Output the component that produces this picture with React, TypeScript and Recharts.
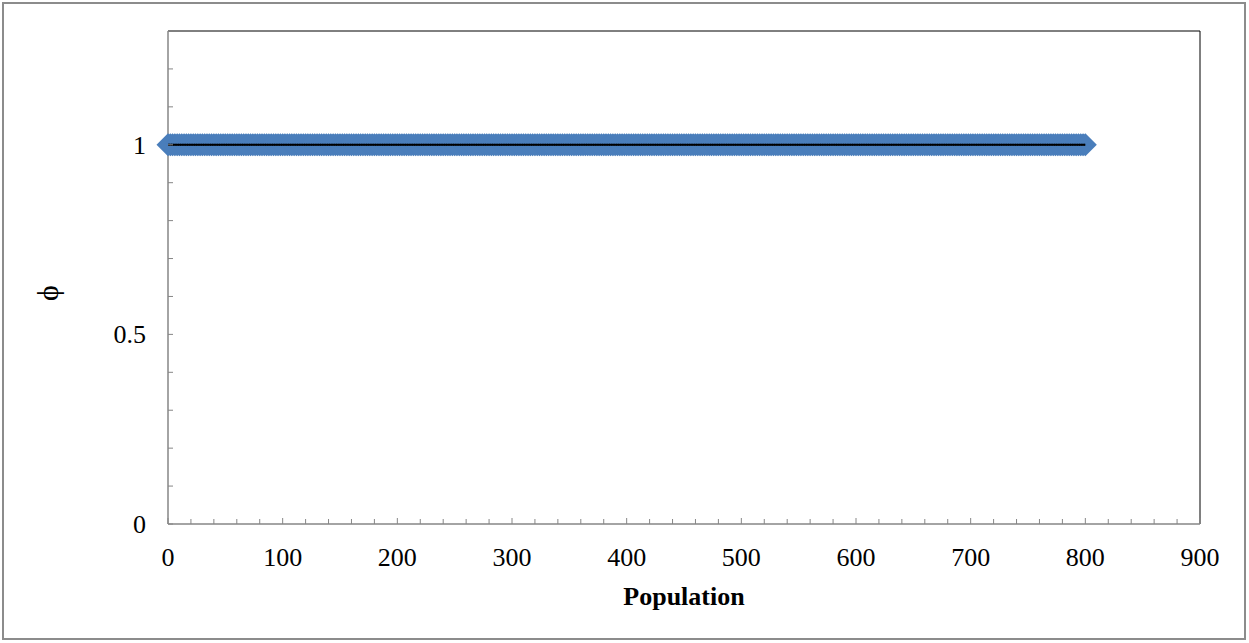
import { ComposedChart, Line, XAxis, YAxis, ReferenceLine } from 'recharts';

// population sizes sampled along the run
const populations = [
  0, 2, 4, 6, 8, 10, 12, 14, 16, 18, 20, 22, 24, 26, 28, 30, 32, 34, 36, 38,
  40, 42, 44, 46, 48, 50, 52, 54, 56, 58, 60, 62, 64, 66, 68, 70, 72, 74, 76, 78,
  80, 82, 84, 86, 88, 90, 92, 94, 96, 98, 100, 102, 104, 106, 108, 110, 112, 114, 116, 118,
  120, 122, 124, 126, 128, 130, 132, 134, 136, 138, 140, 142, 144, 146, 148, 150, 152, 154, 156, 158,
  160, 162, 164, 166, 168, 170, 172, 174, 176, 178, 180, 182, 184, 186, 188, 190, 192, 194, 196, 198,
  200, 202, 204, 206, 208, 210, 212, 214, 216, 218, 220, 222, 224, 226, 228, 230, 232, 234, 236, 238,
  240, 242, 244, 246, 248, 250, 252, 254, 256, 258, 260, 262, 264, 266, 268, 270, 272, 274, 276, 278,
  280, 282, 284, 286, 288, 290, 292, 294, 296, 298, 300, 302, 304, 306, 308, 310, 312, 314, 316, 318,
  320, 322, 324, 326, 328, 330, 332, 334, 336, 338, 340, 342, 344, 346, 348, 350, 352, 354, 356, 358,
  360, 362, 364, 366, 368, 370, 372, 374, 376, 378, 380, 382, 384, 386, 388, 390, 392, 394, 396, 398,
  400, 402, 404, 406, 408, 410, 412, 414, 416, 418, 420, 422, 424, 426, 428, 430, 432, 434, 436, 438,
  440, 442, 444, 446, 448, 450, 452, 454, 456, 458, 460, 462, 464, 466, 468, 470, 472, 474, 476, 478,
  480, 482, 484, 486, 488, 490, 492, 494, 496, 498, 500, 502, 504, 506, 508, 510, 512, 514, 516, 518,
  520, 522, 524, 526, 528, 530, 532, 534, 536, 538, 540, 542, 544, 546, 548, 550, 552, 554, 556, 558,
  560, 562, 564, 566, 568, 570, 572, 574, 576, 578, 580, 582, 584, 586, 588, 590, 592, 594, 596, 598,
  600, 602, 604, 606, 608, 610, 612, 614, 616, 618, 620, 622, 624, 626, 628, 630, 632, 634, 636, 638,
  640, 642, 644, 646, 648, 650, 652, 654, 656, 658, 660, 662, 664, 666, 668, 670, 672, 674, 676, 678,
  680, 682, 684, 686, 688, 690, 692, 694, 696, 698, 700, 702, 704, 706, 708, 710, 712, 714, 716, 718,
  720, 722, 724, 726, 728, 730, 732, 734, 736, 738, 740, 742, 744, 746, 748, 750, 752, 754, 756, 758,
  760, 762, 764, 766, 768, 770, 772, 774, 776, 778, 780, 782, 784, 786, 788, 790, 792, 794, 796, 798,
  800,
];

// phi for each population above
const phi = [
  1, 1, 1, 1, 1, 1, 1, 1, 1, 1, 1, 1, 1, 1, 1, 1, 1, 1, 1, 1,
  1, 1, 1, 1, 1, 1, 1, 1, 1, 1, 1, 1, 1, 1, 1, 1, 1, 1, 1, 1,
  1, 1, 1, 1, 1, 1, 1, 1, 1, 1, 1, 1, 1, 1, 1, 1, 1, 1, 1, 1,
  1, 1, 1, 1, 1, 1, 1, 1, 1, 1, 1, 1, 1, 1, 1, 1, 1, 1, 1, 1,
  1, 1, 1, 1, 1, 1, 1, 1, 1, 1, 1, 1, 1, 1, 1, 1, 1, 1, 1, 1,
  1, 1, 1, 1, 1, 1, 1, 1, 1, 1, 1, 1, 1, 1, 1, 1, 1, 1, 1, 1,
  1, 1, 1, 1, 1, 1, 1, 1, 1, 1, 1, 1, 1, 1, 1, 1, 1, 1, 1, 1,
  1, 1, 1, 1, 1, 1, 1, 1, 1, 1, 1, 1, 1, 1, 1, 1, 1, 1, 1, 1,
  1, 1, 1, 1, 1, 1, 1, 1, 1, 1, 1, 1, 1, 1, 1, 1, 1, 1, 1, 1,
  1, 1, 1, 1, 1, 1, 1, 1, 1, 1, 1, 1, 1, 1, 1, 1, 1, 1, 1, 1,
  1, 1, 1, 1, 1, 1, 1, 1, 1, 1, 1, 1, 1, 1, 1, 1, 1, 1, 1, 1,
  1, 1, 1, 1, 1, 1, 1, 1, 1, 1, 1, 1, 1, 1, 1, 1, 1, 1, 1, 1,
  1, 1, 1, 1, 1, 1, 1, 1, 1, 1, 1, 1, 1, 1, 1, 1, 1, 1, 1, 1,
  1, 1, 1, 1, 1, 1, 1, 1, 1, 1, 1, 1, 1, 1, 1, 1, 1, 1, 1, 1,
  1, 1, 1, 1, 1, 1, 1, 1, 1, 1, 1, 1, 1, 1, 1, 1, 1, 1, 1, 1,
  1, 1, 1, 1, 1, 1, 1, 1, 1, 1, 1, 1, 1, 1, 1, 1, 1, 1, 1, 1,
  1, 1, 1, 1, 1, 1, 1, 1, 1, 1, 1, 1, 1, 1, 1, 1, 1, 1, 1, 1,
  1, 1, 1, 1, 1, 1, 1, 1, 1, 1, 1, 1, 1, 1, 1, 1, 1, 1, 1, 1,
  1, 1, 1, 1, 1, 1, 1, 1, 1, 1, 1, 1, 1, 1, 1, 1, 1, 1, 1, 1,
  1, 1, 1, 1, 1, 1, 1, 1, 1, 1, 1, 1, 1, 1, 1, 1, 1, 1, 1, 1,
  1,
];

const xTicks = [
  0, 20, 40, 60, 80, 100, 120, 140, 160, 180, 200, 220, 240, 260, 280, 300,
  320, 340, 360, 380, 400, 420, 440, 460, 480, 500, 520, 540, 560, 580, 600,
  620, 640, 660, 680, 700, 720, 740, 760, 780, 800, 820, 840, 860, 880, 900,
];
const xLabels = [0, 100, 200, 300, 400, 500, 600, 700, 800, 900];
const yTicks = [0, 0.1, 0.2, 0.3, 0.4, 0.5, 0.6, 0.7, 0.8, 0.9, 1, 1.1, 1.2, 1.3];
const yLabels = [0, 0.5, 1];

const data = populations.map((pop, i) => ({ pop, phi: phi[i] }));

const FONT = '"Liberation Serif", "Times New Roman", serif';
const AXIS_GRAY = '#868686';
const BLUE = '#4A7EBB';
const LAST = populations.length - 1;

const XTick = (props: any) => {
  const { x, y, payload } = props;
  const major = xLabels.includes(payload.value);
  return (
    <g>
      <line x1={x} y1={y} x2={x} y2={y - (major ? 6 : 5)} stroke={AXIS_GRAY} strokeWidth={1} />
      {major && (
        <text x={x} y={y + 42} textAnchor="middle" fontFamily={FONT} fontSize={26} fill="#000">
          {payload.value}
        </text>
      )}
    </g>
  );
};

const YTick = (props: any) => {
  const { x, y, payload } = props;
  const major = yLabels.includes(payload.value);
  if (payload.value === 1.3) return null;
  return (
    <g>
      <line x1={x} y1={y} x2={x + 5} y2={y} stroke={AXIS_GRAY} strokeWidth={1} />
      {major && (
        <text x={x - 22} y={y + 9} textAnchor="end" fontFamily={FONT} fontSize={26} fill="#000">
          {payload.value}
        </text>
      )}
    </g>
  );
};

const Diamond = (props: any) => {
  const { cx, cy } = props;
  if (cx == null || cy == null) return <g />;
  const w = 11.5;
  const h = 11.5;
  return (
    <polygon
      key={`d-${props.index}`}
      points={`${cx - w},${cy} ${cx},${cy - h} ${cx + w},${cy} ${cx},${cy + h}`}
      fill={BLUE}
    />
  );
};

// short black piece of the connecting line at each point, so the line sits above the markers
const Seg = (props: any) => {
  const { cx, cy, index } = props;
  if (cx == null || cy == null) return <g />;
  const left = index === 0 ? cx : cx - 1.6;
  const right = index === LAST ? cx : cx + 1.6;
  return <line key={`s-${index}`} x1={left} y1={cy} x2={right} y2={cy} stroke="#000" strokeWidth={2} />;
};

export default function App() {
  return (
    <div style={{ position: 'absolute', left: 0, top: 0, width: 1249, height: 643, background: '#fff' }}>
      <div
        style={{
          position: 'absolute',
          left: 2,
          top: 2,
          width: 1240,
          height: 634,
          border: '2px solid #8c8c8c',
        }}
      />
      <div style={{ position: 'absolute', left: 0, top: 0 }}>
        <ComposedChart
          width={1249}
          height={643}
          data={data}
          margin={{ top: 31, right: 49, bottom: 59, left: 118 }}
        >
          <XAxis
            type="number"
            dataKey="pop"
            domain={[0, 900]}
            ticks={xTicks}
            interval={0}
            tick={<XTick />}
            tickLine={false}
            tickSize={0}
            tickMargin={0}
            height={60}
            axisLine={{ stroke: AXIS_GRAY, strokeWidth: 1.5 }}
            label={{
              content: (p: any) => (
                <text
                  x={p.viewBox.x + p.viewBox.width / 2}
                  y={p.viewBox.y + 81}
                  textAnchor="middle"
                  fontFamily={FONT}
                  fontSize={26}
                  fontWeight="bold"
                  fill="#000"
                >
                  Population
                </text>
              ),
            }}
          />
          <YAxis
            type="number"
            domain={[0, 1.3]}
            ticks={yTicks}
            interval={0}
            tick={<YTick />}
            tickLine={false}
            tickSize={0}
            tickMargin={0}
            width={50}
            axisLine={{ stroke: AXIS_GRAY, strokeWidth: 1.5 }}
            label={{
              content: () => (
                <text
                  x={47}
                  y={293}
                  textAnchor="middle"
                  dominantBaseline="central"
                  transform="rotate(-90, 47, 293)"
                  fontFamily={FONT}
                  fontSize={30}
                  fill="#000"
                >
                  ϕ
                </text>
              ),
            }}
          />
          <ReferenceLine y={1.3} stroke="#000" strokeWidth={1} />
          <ReferenceLine x={900} stroke="#000" strokeWidth={1} />
          {/* markers */}
          <Line
            type="linear"
            dataKey="phi"
            stroke="none"
            dot={<Diamond />}
            activeDot={false}
            isAnimationActive={false}
          />
          {/* connecting line */}
          <Line
            type="linear"
            dataKey="phi"
            stroke="#000"
            strokeWidth={2}
            dot={<Seg />}
            activeDot={false}
            isAnimationActive={false}
          />
        </ComposedChart>
      </div>
    </div>
  );
}
